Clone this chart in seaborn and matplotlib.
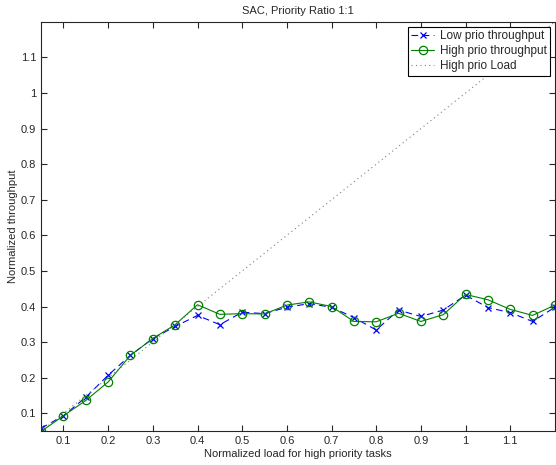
import numpy as np
import pandas as pd
import seaborn as sns
import matplotlib.pyplot as plt

# normalized load for the high priority tasks
load = [0.05, 0.10, 0.15, 0.20, 0.25, 0.30, 0.35, 0.40, 0.45, 0.50, 0.55, 0.60,
        0.65, 0.70, 0.75, 0.80, 0.85, 0.90, 0.95, 1.00, 1.05, 1.10, 1.15, 1.20]

# measured throughput
low_prio = [0.058, 0.093, 0.145, 0.207, 0.263, 0.310, 0.344, 0.375, 0.349, 0.384, 0.380, 0.398,
            0.408, 0.398, 0.369, 0.334, 0.390, 0.372, 0.390, 0.432, 0.397, 0.383, 0.358, 0.398]
high_prio = [0.049, 0.093, 0.136, 0.188, 0.263, 0.310, 0.349, 0.405, 0.378, 0.380, 0.379, 0.404,
             0.413, 0.400, 0.358, 0.357, 0.381, 0.358, 0.377, 0.434, 0.419, 0.392, 0.375, 0.404]

ticks = [0.1, 0.2, 0.3, 0.4, 0.5, 0.6, 0.7, 0.8, 0.9, 1.0, 1.1]
tick_labels = ['0.1', '0.2', '0.3', '0.4', '0.5', '0.6', '0.7', '0.8', '0.9', '1', '1.1']

df = pd.DataFrame({'load': load, 'low': low_prio, 'high': high_prio})

sns.set_style('ticks')
plt.rcParams['font.family'] = ['Liberation Sans', 'DejaVu Sans']
plt.rcParams['xtick.direction'] = 'in'
plt.rcParams['ytick.direction'] = 'in'

fig = plt.figure(figsize=(5.56, 4.65), dpi=100)
ax = fig.add_axes([0.074, 0.073, 0.924, 0.880])

sns.lineplot(data=df, x='load', y='low', ax=ax, color='blue', linestyle=(0, (6, 4)),
             linewidth=0.8, marker='x', markersize=5, markeredgewidth=0.9,
             markeredgecolor='blue', label='Low prio throughput')
sns.lineplot(data=df, x='load', y='high', ax=ax, color='green', linewidth=0.8,
             marker='o', markersize=6, markerfacecolor='none', markeredgecolor='green',
             markeredgewidth=0.9, label='High prio throughput')
sns.lineplot(data=df, x='load', y='load', ax=ax, color='gray', linestyle=(0, (1, 3)),
             linewidth=0.8, label='High prio Load')

ax.set_xlim(0.05, 1.2)
ax.set_ylim(0.05, 1.2)
ax.set_xticks(ticks)
ax.set_xticklabels(tick_labels)
ax.set_yticks(ticks)
ax.set_yticklabels(tick_labels)
ax.tick_params(labelsize=8, top=True, right=True, length=4, width=0.8)
for s in ax.spines.values():
    s.set_linewidth(0.8)

ax.set_xlabel('Normalized load for high priority tasks', fontsize=8, labelpad=2)
ax.set_ylabel('Normalized throughput', fontsize=8, labelpad=2)
ax.set_title('SAC, Priority Ratio 1:1', fontsize=8, pad=6)

leg = ax.legend(loc='upper right', fontsize=8.5, fancybox=False, framealpha=1,
                edgecolor='black', borderpad=0.3, labelspacing=0.25,
                handlelength=1.9, handletextpad=0.5, borderaxespad=0.4)
leg.get_frame().set_linewidth(0.8)

fig.savefig('out.png', dpi=100)
